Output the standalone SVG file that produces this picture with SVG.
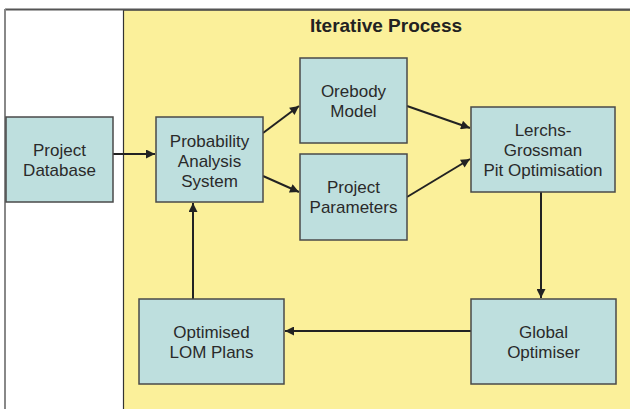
<svg xmlns="http://www.w3.org/2000/svg" width="630" height="409" viewBox="0 0 630 409">
<defs>
<style>
.box{fill:#BEDFDE;stroke:#4a4a4a;stroke-width:1.5}
.t{font-family:"Liberation Sans",Arial,sans-serif;font-size:17px;fill:#2a2a2a;text-anchor:middle}
.title{font-family:"Liberation Sans",Arial,sans-serif;font-size:19px;font-weight:bold;fill:#222;text-anchor:middle}
.c{stroke:#222;stroke-width:2;fill:none;marker-end:url(#ah)}
</style>
<marker id="ah" viewBox="0 0 10 10" refX="10" refY="5" markerWidth="5" markerHeight="4.5" markerUnits="strokeWidth" orient="auto">
<path d="M0,0 L10,5 L0,10 z" fill="#222"/>
</marker>
</defs>
<rect x="0" y="0" width="630" height="409" fill="#fff"/>
<rect x="123.5" y="10" width="510" height="405" fill="#FBF09A" stroke="#333" stroke-width="1.2"/>
<line x1="5" y1="9.5" x2="630" y2="9.5" stroke="#555" stroke-width="2.2"/>
<line x1="5" y1="9" x2="5" y2="409" stroke="#888" stroke-width="2"/>
<text class="title" x="386" y="32">Iterative Process</text>
<g id="connectors">
<line class="c" x1="113" y1="154" x2="155" y2="154"/>
<line class="c" x1="263" y1="133" x2="299" y2="106"/>
<line class="c" x1="263" y1="176" x2="299" y2="192"/>
<line class="c" x1="407" y1="106" x2="470" y2="128"/>
<line class="c" x1="407" y1="197" x2="470" y2="159"/>
<line class="c" x1="541" y1="192" x2="541" y2="298"/>
<line class="c" x1="471" y1="331" x2="285" y2="331"/>
<line class="c" x1="193" y1="299" x2="193" y2="203"/>
</g>
<g id="project-database">
<rect class="box" x="6" y="117" width="107" height="85"/>
<text class="t" x="59.5" y="156">Project</text>
<text class="t" x="59.5" y="176">Database</text>
</g>
<g id="probability-analysis">
<rect class="box" x="156" y="117" width="107" height="85"/>
<text class="t" x="209.5" y="147">Probability</text>
<text class="t" x="209.5" y="167">Analysis</text>
<text class="t" x="209.5" y="187">System</text>
</g>
<g id="orebody-model">
<rect class="box" x="300" y="58" width="107" height="85"/>
<text class="t" x="353.5" y="97">Orebody</text>
<text class="t" x="353.5" y="117">Model</text>
</g>
<g id="project-parameters">
<rect class="box" x="300" y="154" width="107" height="86"/>
<text class="t" x="353.5" y="193">Project</text>
<text class="t" x="353.5" y="213">Parameters</text>
</g>
<g id="lerchs-grossman">
<rect class="box" x="471" y="107" width="144" height="85"/>
<text class="t" x="543" y="136">Lerchs-</text>
<text class="t" x="543" y="156">Grossman</text>
<text class="t" x="543" y="176">Pit Optimisation</text>
</g>
<g id="global-optimiser">
<rect class="box" x="471" y="299" width="145" height="85"/>
<text class="t" x="543.5" y="338">Global</text>
<text class="t" x="543.5" y="358">Optimiser</text>
</g>
<g id="optimised-lom">
<rect class="box" x="139" y="299" width="145" height="85"/>
<text class="t" x="211.5" y="338">Optimised</text>
<text class="t" x="211.5" y="358">LOM Plans</text>
</g>
</svg>
